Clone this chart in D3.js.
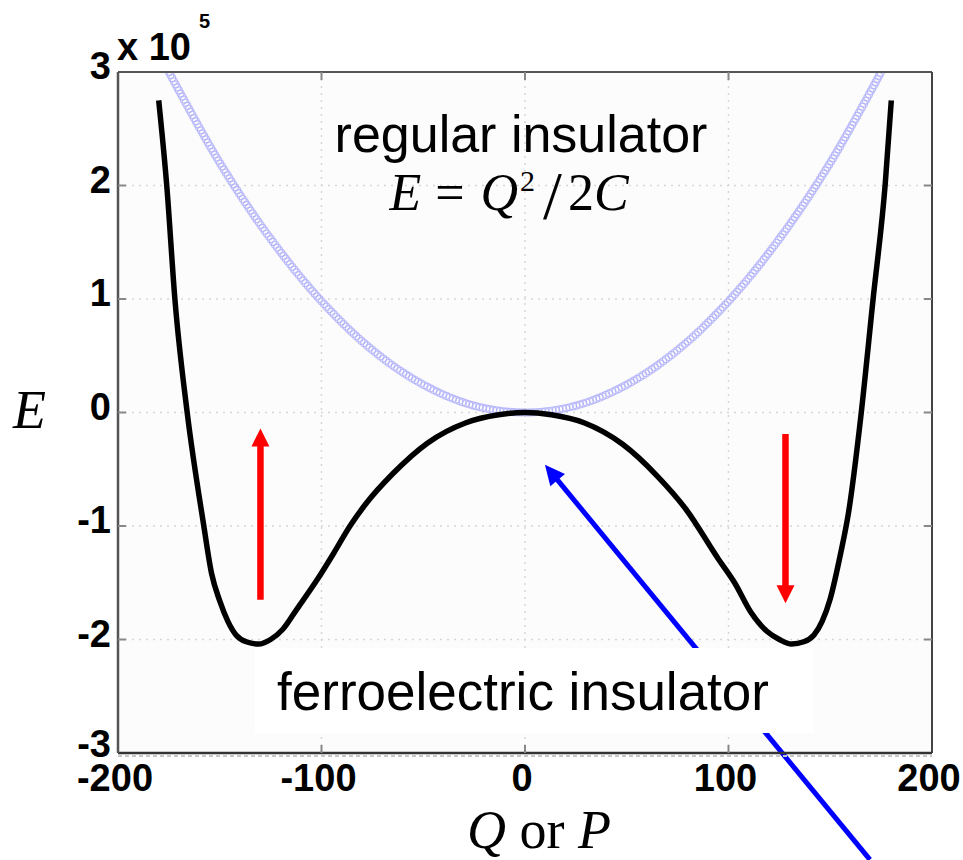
<!DOCTYPE html>
<html>
<head>
<meta charset="utf-8">
<script src="https://cdn.jsdelivr.net/npm/d3@7"></script>
<style>
body { margin: 0; background: #fff; }
svg { display: block; }
.tick-label { font-family: "Liberation Sans", Arial, sans-serif; font-weight: bold; font-size: 38px; fill: #000; }
.sans { font-family: "Liberation Sans", Arial, sans-serif; fill: #000; }
.serif { font-family: "Liberation Serif", "Times New Roman", serif; fill: #000; }
</style>
</head>
<body>
<div id="chart"></div>
<script>
// ferroelectric double well (E in units of 10^5)
var ferroQ = [-180, -176, -172, -166, -158, -154, -150, -146, -142, -137, -131, -125, -119, -112, -102, -94, -86, -78, -65, -48, -29, -13, 0,
              13, 29, 48, 65, 79, 95, 103, 111, 119, 125, 131, 137, 142, 146, 150, 155, 159, 165, 171, 177, 180];
var ferroE = [2.75, 1.99, 0.99, 0.0, -0.98, -1.42, -1.66, -1.84, -1.96, -2.02, -2.04, -2.0, -1.91, -1.73, -1.47, -1.24, -1.0, -0.8, -0.54, -0.27, -0.09, -0.02, 0.0,
              -0.02, -0.09, -0.28, -0.56, -0.85, -1.29, -1.5, -1.76, -1.93, -2.0, -2.04, -2.02, -1.96, -1.84, -1.64, -1.25, -0.88, -0.04, 0.99, 2.01, 2.75];

// regular insulator parabola E = Q^2/2C
var regQ = [-175, -150, -125, -100, -75, -50, -25, 0, 25, 50, 75, 100, 125, 150, 175];
var regE = [3.0, 2.2, 1.53, 0.98, 0.55, 0.245, 0.06, 0.0, 0.06, 0.245, 0.55, 0.98, 1.53, 2.2, 3.0];

var xTicks = [-200, -100, 0, 100, 200];
var yTicks = [-3, -2, -1, 0, 1, 2, 3];
var xGrid = [-100, 0, 100];
var yGrid = [-2, -1, 0, 1, 2];

// arrows: [Q from, E from, Q to, E to]
var redArrows = [[-130, -1.65, -130, -0.14], [128, -0.19, 128, -1.68]];
var blueArrow = [169.5, -3.94, 9.8, -0.46];

// set the dimensions and margins of the graph
var margin = {top: 72, right: 31, bottom: 107, left: 118},
    width = 963 - margin.left - margin.right,
    height = 860 - margin.top - margin.bottom;

var svgRoot = d3.select("#chart").append("svg")
    .attr("width", 963)
    .attr("height", 860);

var svg = svgRoot.append("g")
    .attr("transform", "translate(" + margin.left + "," + margin.top + ")");

var x = d3.scaleLinear().domain([-200, 200]).range([0, width]);
var y = d3.scaleLinear().domain([-3, 3]).range([height, 0]);

svgRoot.append("defs").append("clipPath")
    .attr("id", "plotclip")
    .append("rect")
    .attr("width", width)
    .attr("height", height);

// plot background
svg.append("rect")
    .attr("width", width)
    .attr("height", height)
    .attr("fill", "#fcfcfc");

// dotted grid
svg.append("g").selectAll("line")
    .data(xGrid)
    .enter().append("line")
    .attr("x1", function (d) { return x(d); })
    .attr("x2", function (d) { return x(d); })
    .attr("y1", 0)
    .attr("y2", height)
    .attr("stroke", "#d6d6d6")
    .attr("stroke-width", 1.5)
    .attr("stroke-dasharray", "2,5");

svg.append("g").selectAll("line")
    .data(yGrid)
    .enter().append("line")
    .attr("y1", function (d) { return y(d); })
    .attr("y2", function (d) { return y(d); })
    .attr("x1", 0)
    .attr("x2", width)
    .attr("stroke", "#d6d6d6")
    .attr("stroke-width", 1.5)
    .attr("stroke-dasharray", "2,5");

var plot = svg.append("g").attr("clip-path", "url(#plotclip)");

// regular insulator: open circle markers spaced along the parabola
var regLine = d3.line()
    .x(function (d, i) { return x(regQ[i]); })
    .y(function (d, i) { return y(d); })
    .curve(d3.curveCatmullRom);

var regPath = plot.append("path")
    .attr("d", regLine(regE))
    .attr("fill", "none")
    .attr("stroke", "none");

var node = regPath.node();
var total = node.getTotalLength();
var pts = [];
for (var s = 0; s <= total; s += 3.5) {
    pts.push(node.getPointAtLength(s));
}
plot.append("g").selectAll("circle")
    .data(pts)
    .enter().append("circle")
    .attr("cx", function (d) { return d.x; })
    .attr("cy", function (d) { return d.y; })
    .attr("r", 3.5)
    .attr("fill", "none")
    .attr("stroke", "#b2b2fa")
    .attr("stroke-opacity", 0.85)
    .attr("stroke-width", 1.2);

// ferroelectric curve
var ferroLine = d3.line()
    .x(function (d, i) { return x(ferroQ[i]); })
    .y(function (d, i) { return y(d); })
    .curve(d3.curveMonotoneX);

plot.append("path")
    .attr("d", ferroLine(ferroE))
    .attr("fill", "none")
    .attr("stroke", "#000")
    .attr("stroke-width", 5.5)
    .attr("stroke-linejoin", "round");

// simple arrow: shaft plus triangle head
function drawArrow(g, a, color, lw, headLen, headW) {
    var x1 = x(a[0]), y1 = y(a[1]), x2 = x(a[2]), y2 = y(a[3]);
    var dx = x2 - x1, dy = y2 - y1, len = Math.sqrt(dx * dx + dy * dy);
    var ux = dx / len, uy = dy / len;
    var bx = x2 - ux * headLen, by = y2 - uy * headLen;
    g.append("line")
        .attr("x1", x1).attr("y1", y1)
        .attr("x2", bx + ux * 1).attr("y2", by + uy * 1)
        .attr("stroke", color)
        .attr("stroke-width", lw);
    g.append("path")
        .attr("d", "M" + x2 + "," + y2 +
            "L" + (bx - uy * headW / 2) + "," + (by + ux * headW / 2) +
            "L" + (bx + uy * headW / 2) + "," + (by - ux * headW / 2) + "Z")
        .attr("fill", color);
}

redArrows.forEach(function (a) {
    drawArrow(svg, a, "#ff0000", 6.5, 18, 18);
});
drawArrow(svg, blueArrow, "#0000ff", 5, 20, 19);

// white box behind the ferroelectric label
svg.append("rect")
    .attr("x", 137)
    .attr("y", 576)
    .attr("width", 559)
    .attr("height", 85)
    .attr("fill", "#ffffff");

svg.append("text")
    .attr("class", "sans")
    .attr("x", 405)
    .attr("y", 638)
    .attr("text-anchor", "middle")
    .style("font-size", "53px")
    .text("ferroelectric insulator");

svg.append("text")
    .attr("class", "sans")
    .attr("x", 403)
    .attr("y", 80)
    .attr("text-anchor", "middle")
    .style("font-size", "52px")
    .text("regular insulator");

// E = Q^2/2C
var formula = svg.append("text")
    .attr("class", "serif")
    .attr("x", 391)
    .attr("y", 138)
    .attr("text-anchor", "middle")
    .style("font-size", "52px");
formula.append("tspan").style("font-style", "italic").text("E");
formula.append("tspan").attr("dx", 14).text("=");
formula.append("tspan").attr("dx", 16).style("font-style", "italic").text("Q");
formula.append("tspan").attr("dx", 2).attr("dy", -19).style("font-size", "30px").text("2");
formula.append("tspan").attr("dx", 8).attr("dy", 27).style("font-size", "68px").text("/");
formula.append("tspan").attr("dx", 6).attr("dy", -8).text("2");
formula.append("tspan").style("font-style", "italic").text("C");

// axes box
svg.append("line").attr("x1", 0).attr("x2", width).attr("y1", 0).attr("y2", 0)
    .attr("stroke", "#555").attr("stroke-width", 2);
svg.append("line").attr("x1", width).attr("x2", width).attr("y1", 0).attr("y2", height)
    .attr("stroke", "#444").attr("stroke-width", 2);
svg.append("line").attr("x1", 0).attr("x2", width).attr("y1", height + 3).attr("y2", height + 3)
    .attr("stroke", "#c8c8c8").attr("stroke-width", 2).attr("stroke-dasharray", "4,3");
svg.append("line").attr("x1", 0).attr("x2", width).attr("y1", height).attr("y2", height)
    .attr("stroke", "#333").attr("stroke-width", 2.5);
svg.append("line").attr("x1", 0).attr("x2", 0).attr("y1", 0).attr("y2", height)
    .attr("stroke", "#555").attr("stroke-width", 2.5);

// tick marks inside the box
svg.append("g").selectAll("line")
    .data(xGrid)
    .enter().append("line")
    .attr("x1", function (d) { return x(d); })
    .attr("x2", function (d) { return x(d); })
    .attr("y1", height)
    .attr("y2", height - 8)
    .attr("stroke", "#888")
    .attr("stroke-width", 2);
svg.append("g").selectAll("line")
    .data(xGrid)
    .enter().append("line")
    .attr("x1", function (d) { return x(d); })
    .attr("x2", function (d) { return x(d); })
    .attr("y1", 0)
    .attr("y2", 8)
    .attr("stroke", "#888")
    .attr("stroke-width", 2);
svg.append("g").selectAll("line")
    .data(yGrid)
    .enter().append("line")
    .attr("y1", function (d) { return y(d); })
    .attr("y2", function (d) { return y(d); })
    .attr("x1", 0)
    .attr("x2", 8)
    .attr("stroke", "#888")
    .attr("stroke-width", 2);
svg.append("g").selectAll("line")
    .data(yGrid)
    .enter().append("line")
    .attr("y1", function (d) { return y(d); })
    .attr("y2", function (d) { return y(d); })
    .attr("x1", width)
    .attr("x2", width - 8)
    .attr("stroke", "#888")
    .attr("stroke-width", 2);

// tick labels
svg.append("g").selectAll("text")
    .data(xTicks)
    .enter().append("text")
    .attr("class", "tick-label")
    .attr("x", function (d) { return x(d) - 3; })
    .attr("y", height + 38)
    .attr("text-anchor", "middle")
    .text(function (d) { return d; });

svg.append("g").selectAll("text")
    .data(yTicks)
    .enter().append("text")
    .attr("class", "tick-label")
    .attr("x", -7)
    .attr("y", function (d) { return y(d) + (d === -3 ? 4 : 7); })
    .attr("text-anchor", "end")
    .text(function (d) { return d; });

// exponent label
svgRoot.append("text")
    .attr("class", "tick-label")
    .attr("x", 117)
    .attr("y", 60)
    .text("x 10");
svgRoot.append("text")
    .attr("class", "tick-label")
    .attr("x", 199)
    .attr("y", 28)
    .style("font-size", "20px")
    .text("5");

// axis titles
svgRoot.append("text")
    .attr("class", "serif")
    .attr("x", 13)
    .attr("y", 428)
    .style("font-size", "54px")
    .style("font-style", "italic")
    .text("E");

var xl = svgRoot.append("text")
    .attr("class", "serif")
    .attr("x", 539)
    .attr("y", 848)
    .attr("text-anchor", "middle")
    .style("font-size", "54px");
xl.append("tspan").style("font-style", "italic").text("Q");
xl.append("tspan").text(" or ");
xl.append("tspan").style("font-style", "italic").text("P");
</script>
</body>
</html>
